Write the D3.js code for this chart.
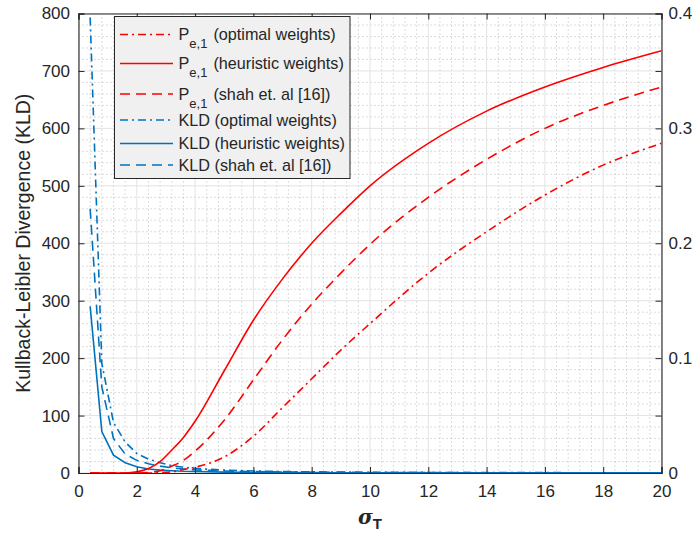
<!DOCTYPE html>
<html><head><meta charset="utf-8">
<script src="https://cdn.jsdelivr.net/npm/d3@7"></script>
<style>
body{margin:0;background:#fff}
svg{display:block}
text{font-family:"Liberation Sans",Arial,Helvetica,sans-serif;fill:#262626}
</style>
</head><body>
<svg id="c" width="693" height="539"></svg>
<script>
// ---- data ----
const sigmaT = [0.4,0.8,1.2,1.6,2.0,2.4,2.8,3.2,3.6,4,5,6,7,8,9,10,12,14,16,18,20];
// Probability of error (right axis)
const peOptimal   = [0,0,0,0,0,0,0.0003,0.001,0.003,0.005,0.014,0.032,0.057,0.082,0.107,0.130,0.174,0.210,0.242,0.268,0.287];
const peHeuristic = [0,0,0,0,0.001,0.004,0.010,0.020,0.031,0.045,0.089,0.133,0.169,0.200,0.226,0.250,0.287,0.315,0.336,0.353,0.3675];
const peShah      = [0,0,0,0,0,0.0005,0.002,0.006,0.011,0.019,0.046,0.081,0.116,0.147,0.174,0.199,0.240,0.273,0.300,0.320,0.336];
// KLD (left axis)
const kldOptimal   = [793,191,88,54,34,24,18,13,10,8,5,3.5,2.5,2,1.6,1.3,1,0.8,0.6,0.5,0.4];
const kldHeuristic = [290,72,31,18,11,7,5,4,3,2.5,1.5,1,0.8,0.6,0.5,0.4,0.3,0.25,0.2,0.2,0.15];
const kldShah      = [460,150,60,33,22,16,12,9,7,5.5,3.5,2.5,1.8,1.4,1.1,0.9,0.7,0.5,0.4,0.35,0.3];
const xTicks = [0,2,4,6,8,10,12,14,16,18,20];
const yLeftTicks = [0,100,200,300,400,500,600,700,800];
const yRightTicks = [0,0.05,0.1,0.15,0.2,0.25,0.3,0.35,0.4];
const legendLabels = [
  {main:"P", sub:"e,1", rest:"(optimal weights)"},
  {main:"P", sub:"e,1", rest:"(heuristic weights)"},
  {main:"P", sub:"e,1", rest:"(shah et. al [16])"},
  {main:"KLD (optimal weights)"},
  {main:"KLD (heuristic weights)"},
  {main:"KLD (shah et. al [16])"}
];

// ---- layout ----
const L = 78.5, R = 661.5, T = 13.5, B = 473;
const RED = "#ff0000", BLUE = "#0072bd";
const DASHDOT = "8,4,2,4", DASHED = "10,6";

const svg = d3.select("#c");
const x = d3.scaleLinear().domain([0,20]).range([L,R]);
const yL = d3.scaleLinear().domain([0,800]).range([B,T]);
const yR = d3.scaleLinear().domain([0,0.4]).range([B,T]);

// minor grid
const g = svg.append("g");
const minorX = d3.range(0,20.001,0.4).filter(v => Math.abs(v/2 - Math.round(v/2))>1e-6);
const minorY = d3.range(0,800.001,20).filter(v => v%100!==0);
g.selectAll(".mx").data(minorX).join("line")
  .attr("x1",d=>x(d)).attr("x2",d=>x(d)).attr("y1",T).attr("y2",B)
  .attr("stroke","#b8b8b8").attr("stroke-width",1).attr("stroke-dasharray","1,3");
g.selectAll(".my").data(minorY).join("line")
  .attr("y1",d=>yL(d)).attr("y2",d=>yL(d)).attr("x1",L).attr("x2",R)
  .attr("stroke","#b8b8b8").attr("stroke-width",1).attr("stroke-dasharray","1,3");
// major grid
g.selectAll(".gx").data(xTicks).join("line")
  .attr("x1",d=>x(d)).attr("x2",d=>x(d)).attr("y1",T).attr("y2",B)
  .attr("stroke","#e3e3e3").attr("stroke-width",1);
g.selectAll(".gy").data(yLeftTicks).join("line")
  .attr("y1",d=>yL(d)).attr("y2",d=>yL(d)).attr("x1",L).attr("x2",R)
  .attr("stroke","#e3e3e3").attr("stroke-width",1);

// clip
svg.append("clipPath").attr("id","clip").append("rect")
  .attr("x",L).attr("y",T).attr("width",R-L).attr("height",B-T);

const plot = svg.append("g").attr("clip-path","url(#clip)");
const lineL = d3.line().x((d,i)=>x(sigmaT[i])).y(d=>yL(d));
const lineR = d3.line().x((d,i)=>x(sigmaT[i])).y(d=>yR(d)).curve(d3.curveMonotoneX);

const blueSeries = [[kldOptimal,DASHDOT],[kldHeuristic,null],[kldShah,DASHED]];
const redSeries = [[peOptimal,DASHDOT],[peHeuristic,null],[peShah,DASHED]];
blueSeries.forEach(([s,da])=>{
  plot.append("path").attr("d",lineL(s)).attr("fill","none").attr("stroke",BLUE)
    .attr("stroke-width",1.6).attr("stroke-dasharray",da);
});
redSeries.forEach(([s,da])=>{
  plot.append("path").attr("d",lineR(s)).attr("fill","none").attr("stroke",RED)
    .attr("stroke-width",1.6).attr("stroke-dasharray",da);
});

// axes
const fs = "17px";
const axB = svg.append("g").attr("transform",`translate(0,${B})`)
  .call(d3.axisBottom(x).tickValues(xTicks).tickSize(-6).tickPadding(12).tickFormat(d3.format("d")));
const axT = svg.append("g").attr("transform",`translate(0,${T})`)
  .call(d3.axisTop(x).tickValues(xTicks).tickSize(-6).tickFormat(""));
const axL = svg.append("g").attr("transform",`translate(${L},0)`)
  .call(d3.axisLeft(yL).tickValues(yLeftTicks).tickSize(-6).tickPadding(8.5).tickFormat(d3.format("d")));
const axR = svg.append("g").attr("transform",`translate(${R},0)`)
  .call(d3.axisRight(yR).tickValues(yRightTicks).tickSize(-6).tickPadding(7)
    .tickFormat(d => Math.abs(d*10 - Math.round(d*10))<1e-6 ? d3.format("")(+d.toFixed(1)) : ""));
[axB,axT,axL,axR].forEach(a=>{
  a.selectAll(".domain").attr("stroke","#262626").attr("stroke-width",1.1);
  a.selectAll(".tick line").attr("stroke","#262626").attr("stroke-width",1);
  a.selectAll("text").attr("font-size",fs).attr("font-family",null).style("fill","#262626");
});

// axis titles
svg.append("text").attr("transform",`translate(29.5,${(T+B)/2}) rotate(-90)`)
  .attr("text-anchor","middle").attr("font-size","19.5px").text("Kullback-Leibler Divergence (KLD)");
const xl = svg.append("text").attr("x",(L+R)/2).attr("y",524).attr("text-anchor","middle")
  .attr("font-size","20px").attr("font-weight","bold");
xl.append("tspan").attr("font-style","italic").attr("font-family","'DejaVu Serif',serif").text("σ");
xl.append("tspan").attr("dy",5).attr("font-size","15px").text("T");

// legend
const lg = svg.append("g");
const lx0 = 114.5, ly0 = 16.5, lw = 235.5, lh = 162;
lg.append("rect").attr("x",lx0).attr("y",ly0).attr("width",lw).attr("height",lh)
  .attr("fill","#f0f0f0").attr("stroke","#262626").attr("stroke-width",1);
const rowY = [34.5,63.5,94,120,143.5,165];
const legendStyles = [[RED,DASHDOT],[RED,null],[RED,DASHED],[BLUE,DASHDOT],[BLUE,null],[BLUE,DASHED]];
legendLabels.forEach((lab,i)=>{
  const yy = rowY[i];
  lg.append("line").attr("x1",120).attr("x2",173).attr("y1",yy).attr("y2",yy)
    .attr("stroke",legendStyles[i][0]).attr("stroke-width",1.6).attr("stroke-dasharray",legendStyles[i][1]);
  const t = lg.append("text").attr("x",178.5).attr("y",yy+5.5).attr("font-size","16.2px");
  if(lab.sub){
    t.append("tspan").text(lab.main);
    t.append("tspan").attr("dy",8).attr("font-size","13px").text(lab.sub);
    t.append("tspan").attr("dy",-8).attr("dx",6).text(lab.rest);
  } else {
    t.text(lab.main);
  }
});
</script>
</body></html>
